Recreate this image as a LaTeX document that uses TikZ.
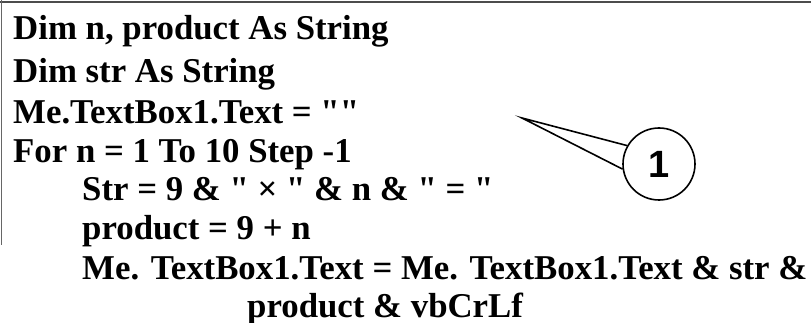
\documentclass[tikz,border=0pt]{standalone}
\usepackage{fontspec}
\setmainfont{Liberation Serif}
\newfontfamily\labelfont{Liberation Sans}

\tikzset{
	codeline/.style = {anchor=base west, inner sep=0pt, font=\fontsize{34.8}{36}\selectfont\bfseries},
	callout/.style = {circle, draw, line width=1.6pt, minimum size=72pt, inner sep=0pt,
		font=\labelfont\fontsize{38}{40}\selectfont\bfseries}
}

\begin{document}
\begin{tikzpicture}[x=1pt, y=-1pt]
	\useasboundingbox (0,0) rectangle (811,323);
	% frame
	\draw[line width=2pt, black!70] (0,2) -- (811,2);
	\draw[line width=1pt, black!60] (1,0) -- (1,245);

	% code
	\node[codeline] (dimn)    at (13,40)  {Dim n, product As String};
	\node[codeline] (dimstr)  at (13,83)  {Dim str As String};
	\node[codeline] (clear)   at (13,124) {Me.TextBox1.Text = \textquotedbl\textquotedbl};
	\node[codeline] (loop)    at (13,163) {For n = 1 To 10 Step -1};
	\node[codeline] (setstr)  at (82,201) {Str = 9 \& \textquotedbl{} × \textquotedbl{} \& n \& \textquotedbl{} = \textquotedbl};
	\node[codeline] (setprod) at (82,240) {product = 9 + n};
	\node[codeline] (append)  at (82,279) {Me. TextBox1.Text = Me. TextBox1.Text \& str \&};
	\node[codeline] (appendb) at (247,317) {product \& vbCrLf};

	% callout
	\node[callout] (one) at (659,164) {1};
	\coordinate (tip) at (522,118);
	\draw[line width=1.6pt] (one.150) -- (tip) -- (one.188);
\end{tikzpicture}
\end{document}
